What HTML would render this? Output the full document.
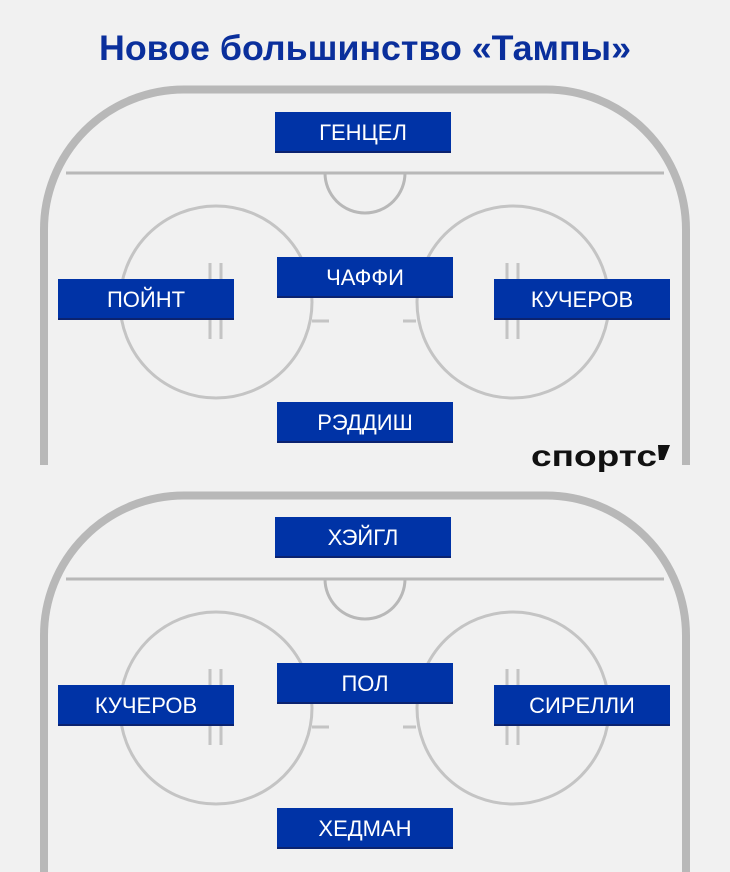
<!DOCTYPE html>
<html><head><meta charset="utf-8"><style>
html,body{margin:0;padding:0;background:#f1f1f1;}
svg{display:block}
</style></head><body>
<svg width="730" height="872" viewBox="0 0 730 872" xmlns="http://www.w3.org/2000/svg">
<rect width="730" height="872" fill="#f1f1f1"/>
<text x="365" y="60" text-anchor="middle" font-family="Liberation Sans, sans-serif" font-size="35" fill="#0a2f9c" textLength="532" lengthAdjust="spacingAndGlyphs" font-weight="bold">Новое большинство «Тампы»</text>

<defs>
<g id="rink">
  <path d="M44,380 V230 A140 140 0 0 1 184 89.5 H546 A140 140 0 0 1 686 230 V380" fill="none" stroke="#b8b8b8" stroke-width="8"/>
  <line x1="66" y1="173" x2="664" y2="173" stroke="#b8b8b8" stroke-width="3"/>
  <path d="M325,173 A40 40 0 0 0 405 173" fill="none" stroke="#b8b8b8" stroke-width="3"/>
  <circle cx="216" cy="302" r="96" fill="none" stroke="#c4c4c4" stroke-width="3"/>
  <circle cx="513" cy="302" r="96" fill="none" stroke="#c4c4c4" stroke-width="3"/>
  <g stroke="#c4c4c4" stroke-width="3">
    <line x1="210" y1="263" x2="210" y2="339"/><line x1="221" y1="263" x2="221" y2="339"/>
    <line x1="507" y1="263" x2="507" y2="339"/><line x1="518" y1="263" x2="518" y2="339"/>
    <line x1="312" y1="321" x2="329" y2="321"/><line x1="403" y1="321" x2="416" y2="321"/>
  </g>
</g>
<g id="bx"><rect x="0" y="0" width="176" height="41" fill="#0033a6"/><rect x="0" y="39" width="176" height="2" fill="#0b2370"/></g>
</defs>

<use href="#rink"/>
<rect x="30" y="380" width="30" height="85" fill="none"/>
<line x1="44" y1="378" x2="44" y2="465" stroke="#b8b8b8" stroke-width="8"/>
<line x1="686" y1="378" x2="686" y2="465" stroke="#b8b8b8" stroke-width="8"/>

<g transform="translate(0,406)">
  <use href="#rink"/>
  <line x1="44" y1="378" x2="44" y2="470" stroke="#b8b8b8" stroke-width="8"/>
  <line x1="686" y1="378" x2="686" y2="470" stroke="#b8b8b8" stroke-width="8"/>
</g>

<g font-family="Liberation Sans, sans-serif" font-size="22" fill="#fff" text-anchor="middle">
<use href="#bx" x="275" y="112"/><text x="363" y="140">ГЕНЦЕЛ</text>
<use href="#bx" x="277" y="257"/><text x="365" y="285">ЧАФФИ</text>
<use href="#bx" x="58" y="279"/><text x="146" y="307">ПОЙНТ</text>
<use href="#bx" x="494" y="279"/><text x="582" y="307">КУЧЕРОВ</text>
<use href="#bx" x="277" y="402"/><text x="365" y="430">РЭДДИШ</text>

<use href="#bx" x="275" y="517"/><text x="363" y="545">ХЭЙГЛ</text>
<use href="#bx" x="277" y="663"/><text x="365" y="691">ПОЛ</text>
<use href="#bx" x="58" y="685"/><text x="146" y="713">КУЧЕРОВ</text>
<use href="#bx" x="494" y="685"/><text x="582" y="713">СИРЕЛЛИ</text>
<use href="#bx" x="277" y="808"/><text x="365" y="836">ХЕДМАН</text>
</g>

<text x="531" y="466" font-family="Liberation Sans, sans-serif" font-size="30" font-weight="bold" fill="#111" textLength="126" lengthAdjust="spacingAndGlyphs">спортс</text>
<path d="M658,445 L670,445 L664,460 L659,460 Z" fill="#111"/>
</svg>
</body></html>
